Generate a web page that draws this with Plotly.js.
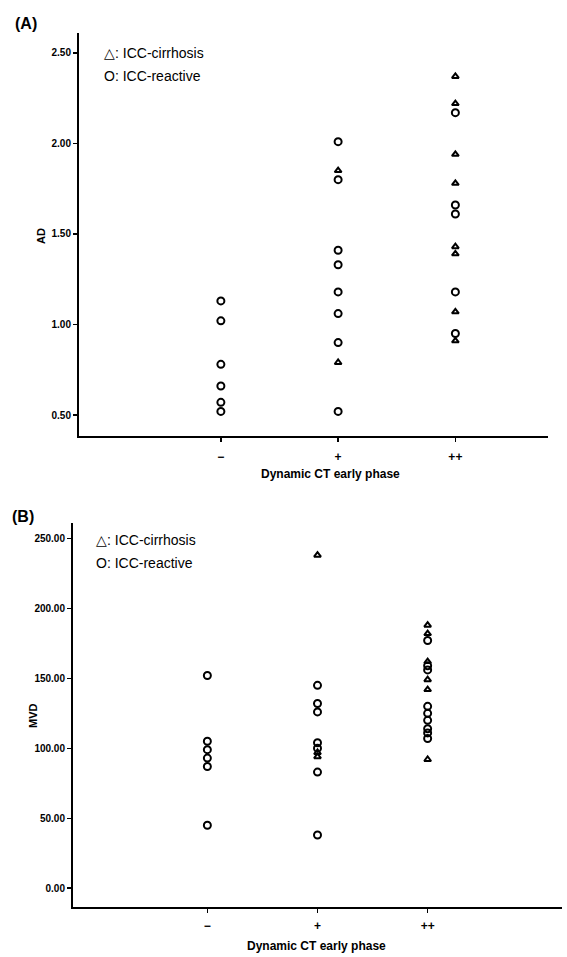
<!DOCTYPE html>
<html><head><meta charset="utf-8">
<script src="https://cdn.plot.ly/plotly-3.0.1.min.js"></script>
<style>html,body{margin:0;padding:0;background:#fff}#c{width:567px;height:957px}</style>
</head><body><div id="c"></div>
<script>
// Categories (x axis)
const categories = ["−", "+", "++"];
const yTicksA = [0.5, 1.0, 1.5, 2.0, 2.5];
const yTicksB = [0, 50, 100, 150, 200, 250];

// Panel A: AD values
const A_minus_reactive = [1.13, 1.02, 0.78, 0.66, 0.57, 0.52];
const A_minus_cirrhosis = [];
const A_plus_reactive = [2.01, 1.80, 1.41, 1.33, 1.18, 1.06, 0.90, 0.52];
const A_plus_cirrhosis = [1.85, 0.79];
const A_pp_reactive = [2.17, 1.66, 1.61, 1.18, 0.95];
const A_pp_cirrhosis = [2.37, 2.22, 1.94, 1.78, 1.43, 1.39, 1.07, 0.91];

// Panel B: MVD values
const B_minus_reactive = [152, 105, 99, 93, 87, 45];
const B_minus_cirrhosis = [];
const B_plus_reactive = [145, 132, 126, 104, 100, 83, 38];
const B_plus_cirrhosis = [238, 97, 94];
const B_pp_reactive = [177, 159, 156, 130, 125, 120, 114, 111, 107];
const B_pp_cirrhosis = [188, 182, 162, 149, 142, 92];

function series(groups, symbol, size, xa, ya) {
  const xs = [], ys = [];
  groups.forEach((vals, i) => vals.forEach(v => { xs.push(categories[i]); ys.push(v); }));
  return {
    type: "scatter", mode: "markers", x: xs, y: ys, xaxis: xa, yaxis: ya,
    marker: {symbol: symbol, size: size, color: "#000", line: {color: "#000", width: 2}},
    showlegend: false, hoverinfo: "skip"
  };
}

const W = 567, H = 957;
const fx = p => p / W, fy = p => 1 - p / H;

const data = [
  series([A_minus_reactive, A_plus_reactive, A_pp_reactive], "circle-open", 7, "x", "y"),
  series([A_minus_cirrhosis, A_plus_cirrhosis, A_pp_cirrhosis], "triangle-up-open", 6, "x", "y"),
  series([B_minus_reactive, B_plus_reactive, B_pp_reactive], "circle-open", 7, "x2", "y2"),
  series([B_minus_cirrhosis, B_plus_cirrhosis, B_pp_cirrhosis], "triangle-up-open", 6, "x2", "y2")
];

const tickFont = {family: "Liberation Sans, Arial, sans-serif", size: 10, color: "#000", weight: "bold"};
const axBase = {
  showline: true, linecolor: "#000", linewidth: 2, showgrid: false, zeroline: false,
  ticks: "outside", ticklen: 4, tickwidth: 1.5, tickcolor: "#000", tickfont: tickFont
};

const layout = {
  width: W, height: H, margin: {l: 0, r: 0, t: 0, b: 0},
  paper_bgcolor: "#fff", plot_bgcolor: "#fff", showlegend: false,
  xaxis: Object.assign({}, axBase, {domain: [fx(79), fx(548)], anchor: "y",
    type: "category", categoryorder: "array", categoryarray: categories,
    range: [-1.21, 2.79], ticklabelstandoff: 5, tickfont: Object.assign({}, tickFont, {size: 12})}),
  yaxis: Object.assign({}, axBase, {domain: [fy(436), fy(33)], anchor: "x",
    range: [0.384, 2.61], tickvals: yTicksA, tickformat: ".2f"}),
  xaxis2: Object.assign({}, axBase, {domain: [fx(73), fx(562)], anchor: "y2",
    type: "category", categoryorder: "array", categoryarray: categories,
    range: [-1.22, 3.22], ticklabelstandoff: 3, tickfont: Object.assign({}, tickFont, {size: 12})}),
  yaxis2: Object.assign({}, axBase, {domain: [fy(906.7), fy(523)], anchor: "x2",
    range: [-13.2, 261], tickvals: yTicksB, tickformat: ".2f"}),
  annotations: [
    {text: "(A)", x: fx(13), y: fy(23), xref: "paper", yref: "paper", xanchor: "left", yanchor: "middle", showarrow: false,
     font: {family: "Liberation Sans, Arial", size: 16, weight: "bold", color: "#000"}},
    {text: "(B)", x: fx(10), y: fy(516), xref: "paper", yref: "paper", xanchor: "left", yanchor: "middle", showarrow: false,
     font: {family: "Liberation Sans, Arial", size: 16, weight: "bold", color: "#000"}},
    {text: "△: ICC-cirrhosis", x: fx(102), y: fy(53), xref: "paper", yref: "paper", xanchor: "left", yanchor: "middle", showarrow: false,
     font: {family: "Liberation Sans, Arial", size: 14, color: "#000"}},
    {text: "O: ICC-reactive", x: fx(102), y: fy(76), xref: "paper", yref: "paper", xanchor: "left", yanchor: "middle", showarrow: false,
     font: {family: "Liberation Sans, Arial", size: 14, color: "#000"}},
    {text: "△: ICC-cirrhosis", x: fx(94), y: fy(540), xref: "paper", yref: "paper", xanchor: "left", yanchor: "middle", showarrow: false,
     font: {family: "Liberation Sans, Arial", size: 14, color: "#000"}},
    {text: "O: ICC-reactive", x: fx(94), y: fy(563), xref: "paper", yref: "paper", xanchor: "left", yanchor: "middle", showarrow: false,
     font: {family: "Liberation Sans, Arial", size: 14, color: "#000"}},
    {text: "AD", x: fx(41), y: fy(236), xref: "paper", yref: "paper", textangle: -90, xanchor: "center", yanchor: "middle", showarrow: false,
     font: {family: "Liberation Sans, Arial", size: 11, weight: "bold", color: "#000"}},
    {text: "MVD", x: fx(33), y: fy(716), xref: "paper", yref: "paper", textangle: -90, xanchor: "center", yanchor: "middle", showarrow: false,
     font: {family: "Liberation Sans, Arial", size: 11, weight: "bold", color: "#000"}},
    {text: "Dynamic CT early phase", x: fx(330), y: fy(474), xref: "paper", yref: "paper", xanchor: "center", yanchor: "middle", showarrow: false,
     font: {family: "Liberation Sans, Arial", size: 12, weight: "bold", color: "#000"}},
    {text: "Dynamic CT early phase", x: fx(316), y: fy(946), xref: "paper", yref: "paper", xanchor: "center", yanchor: "middle", showarrow: false,
     font: {family: "Liberation Sans, Arial", size: 12, weight: "bold", color: "#000"}}
  ]
};

Plotly.newPlot("c", data, layout, {staticPlot: true, displayModeBar: false});
</script></body></html>
